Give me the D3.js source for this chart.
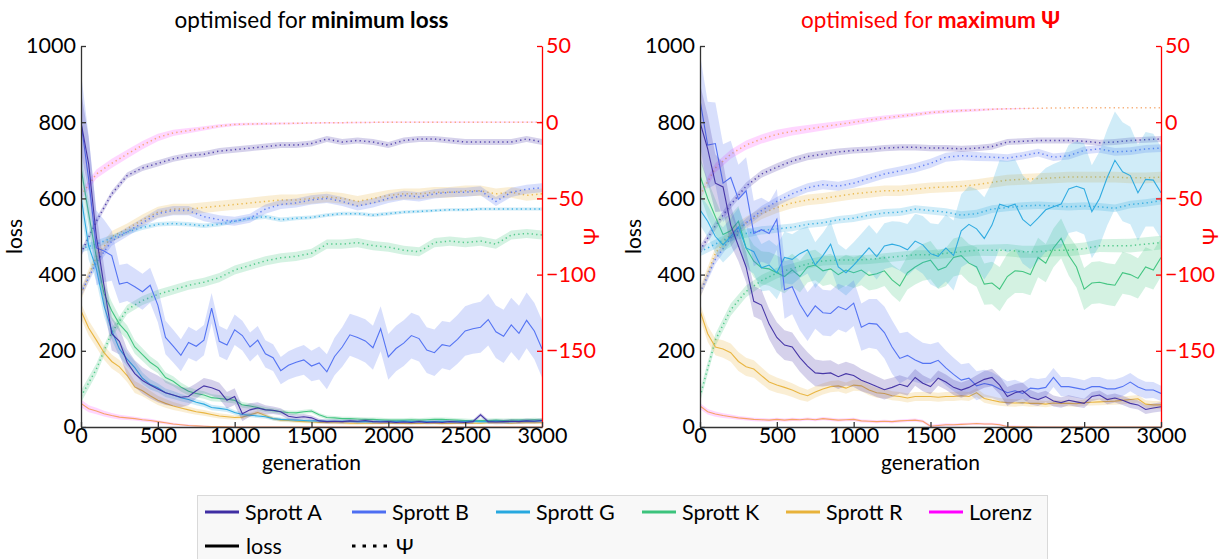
<!DOCTYPE html>
<html><head><meta charset="utf-8">
<script src="https://cdn.jsdelivr.net/npm/d3@7"></script>
<style>
body{margin:0;background:#fff;}
svg{font-family:Lato,'Open Sans',sans-serif;}
</style></head><body>
<svg id="chart" width="1232" height="559"></svg>
<script>
// ---------- data ----------
const SERIES = ["Sprott A","Sprott B","Sprott G","Sprott K","Sprott R","Lorenz"];
const COLORS = ["#3f2ea3","#4d6ef2","#27a8df","#3cc37c","#e8b23a","#ff00ff"];
const BAND_COLORS = ["#3f2ea3","#4d6ef2","#27a8df","#3cc37c","#e8b23a","#ff44ff"];
const LINE_COLORS = ["#3f2ea3","#4d6ef2","#27a8df","#3cc37c","#e8b23a","#f5a060"];

const GEN_LOSS = [0,50,100,150,200,250,300,350,400,450,500,550,600,650,700,750,800,850,900,950,
  1000,1050,1100,1150,1200,1250,1300,1350,1400,1450,1500,1550,1600,1650,1700,1750,1800,1850,1900,1950,
  2000,2050,2100,2150,2200,2250,2300,2350,2400,2450,2500,2550,2600,2650,2700,2750,2800,2850,2900,2950,3000];
const GEN_PSI = [0,100,200,300,400,500,600,700,800,900,1000,1100,1200,1300,1400,1500,1600,1700,1800,1900,
  2000,2100,2200,2300,2400,2500,2600,2700,2800,2900,3000];
const GEN_SD = [0,250,500,750,1000,1250,1500,1750,2000,2250,2500,2750,3000];

const X_TICKS = [0,500,1000,1500,2000,2500,3000];
const LOSS_TICKS = [0,200,400,600,800,1000];
const PSI_TICKS = [-150,-100,-50,0,50];

// panel 1: optimised for minimum loss — loss
const lossMinA = [800,690,500,370,245,225,170,140,122,110, 100,90,84,78,80,95,108,103,95,70, 80,35,45,50,45,44,40,28,25,27, 24,16,14,15,14,16,15,17,14,13, 14,12,13,12,14,12,13,12,14,13, 12,14,32,14,13,14,15,14,16,15, 17];
const lossMinB = [800,650,470,462,450,375,380,368,355,372, 320,235,212,188,222,212,228,312,225,215, 255,240,210,228,192,182,148,162,170,176, 160,168,145,185,210,242,235,226,208,258, 184,206,220,240,232,202,195,216,212,230, 252,258,262,282,250,238,268,246,280,252, 205];
const lossMinG = [605,475,415,318,253,205,178,156,128,112, 103,90,84,77,72,65,60,51,49,46, 38,33,31,29,27,22,20,19,18,17, 16,16,15,15,15,15,14,14,14,15, 14,14,15,14,14,14,14,15,14,14, 14,15,14,14,15,14,14,15,15,15, 16];
const lossMinK = [680,560,445,350,305,270,248,210,190,170, 156,130,120,105,94,88,84,77,75,73, 70,58,55,51,46,43,40,38,37,40, 42,32,25,24,22,22,21,20,20,19, 18,18,18,19,18,19,20,20,19,18, 17,16,17,17,18,17,18,18,18,19, 18];
const lossMinR = [305,260,228,195,172,158,135,105,95,82, 70,62,55,50,45,40,37,33,29,27, 25,26,32,38,30,22,18,17,15,14, 13,12,12,11,11,10,10,10,10,10, 10,10,9,9,9,10,10,9,9,10, 10,10,10,11,11,11,10,11,11,11, 11];
const lossMinLo = [62,48,42,35,30,26,24,22,19,17, 14,11,8,6,4,3,2,1,1,0.5, 0,0,0,0,0,0,0,0,0,0, 0,0,0,0,0,0,0,0,0,0, 0,0,0,0,0,0,0,0,0,0, 0,0,0,0,0,0,0,0,0,0, 0];
// spread (half band width) on GEN_SD
const lossMinSdA = [80,35,35,20,22,10,6,5,5,5,5,6,6];
const lossMinSdB = [130,50,45,40,40,35,40,55,60,60,65,70,75];
const lossMinSdG = [40,20,12,8,6,5,4,4,4,4,4,4,4];
const lossMinSdK = [40,20,15,10,8,6,5,5,5,5,5,5,5];
const lossMinSdR = [20,18,12,8,6,5,4,4,3,3,3,3,3];
const lossMinSdLo = [10,6,4,2,1,1,1,1,1,1,1,1,1];

// panel 1 — Ψ
const psiMinA = [-86,-65,-47,-35,-30,-27,-24,-22,-21,-19,-18,-17,-16,-15,-15,-14,-11,-13,-12,-13,-15,-12,-11,-11,-12,-13,-13,-13,-13,-11,-13];
const psiMinB = [-112,-92,-78,-72,-66,-60,-58,-58,-62,-64,-65,-63,-57,-54,-53,-51,-50,-52,-55,-53,-50,-48,-49,-47,-46,-46,-45,-52,-46,-44,-43];
const psiMinG = [-83,-80,-76,-72,-69,-67,-66.5,-67,-68,-67,-65,-63,-62,-64,-63,-62.5,-61,-60,-60,-61,-60,-59,-58.5,-58,-57.5,-57.5,-57,-57,-57,-57,-57];
const psiMinK = [-180,-162,-138,-123,-117,-113,-110,-107,-105,-102,-97,-94,-91,-89,-88,-86,-80,-80,-79,-81,-82,-84,-85,-79,-78,-79,-78,-80,-74,-73,-74];
const psiMinR = [-113,-88,-75,-70,-64,-59,-57,-57,-56,-55,-54,-53,-52,-51,-51,-50,-49,-50,-52,-50,-48,-47,-47,-46,-46,-45,-45,-47,-46,-48,-47];
const psiMinLo = [-48,-34,-27,-21,-15,-10,-7,-5.5,-4,-2.5,-1.5,-1.2,-1,-0.9,-0.7,-0.5,-0.4,-0.3,-0.2,-0.1,0,0,0,0,0,0,0,0,0,0,0];
const psiMinSdA = [2.5,2,2,2,2,2,2,2,2,2,2,2,2];
const psiMinSdB = [3,3,3,3,3,3,3,3,3,3,3,3,3];
const psiMinSdG = [2.5,2,1.5,1.5,1.5,1.5,1.2,1.2,1.2,1,1,1,1];
const psiMinSdK = [4,3,3,3,3,3,3,3,3,3,3,3,3];
const psiMinSdR = [4,3.5,3.5,3.5,3.5,3.5,3.5,3.5,3.5,3.5,3.5,3.5,3.5];
const psiMinSdLo = [3,3,2.5,1.5,1,0.7,0.5,0.5,0.4,0.4,0.4,0.4,0.4];

// panel 2: optimised for maximum Ψ — loss
const lossMaxA = [800,730,640,630,530,475,420,330,320,270, 235,215,210,182,160,142,140,142,132,140, 135,123,115,106,98,104,112,106,130,115, 106,128,118,104,97,104,115,125,130,110, 80,90,95,78,72,80,68,64,70,66, 62,80,84,72,76,70,62,58,46,50, 53];
const lossMaxB = [858,740,744,640,655,598,620,508,518,508, 545,360,368,322,290,318,300,298,316,308, 325,262,272,270,248,210,180,188,176,167, 167,175,155,138,123,128,108,114,110,100, 90,95,88,102,100,104,130,106,106,102, 98,106,106,100,100,106,118,105,97,97, 88];
const lossMaxG = [570,540,500,478,500,525,470,460,418,425, 405,445,440,455,465,425,450,480,420,405, 425,447,470,447,475,480,475,465,488,478, 455,448,470,450,515,532,520,495,530,585, 578,585,545,528,548,570,578,585,625,632, 625,565,600,655,700,670,660,615,650,648, 615];
const lossMaxK = [660,600,552,505,515,540,470,435,418,415, 405,395,412,395,420,425,410,415,400,412, 405,412,398,402,410,386,370,405,420,432, 438,412,420,445,450,430,420,375,378,362, 395,410,408,400,445,430,470,495,450,420, 362,378,380,375,372,405,400,390,420,412, 445];
const lossMaxR = [305,245,210,205,195,172,158,152,135,118, 110,104,97,88,82,92,100,106,108,102, 110,108,97,90,88,82,80,76,80,80, 80,78,80,80,82,80,90,75,70,66, 64,63,64,62,62,60,63,62,62,61, 64,65,66,67,68,70,72,74,60,58, 58];
const lossMaxLo = [55,40,34,30,27,24,22,20,19,18, 20,18,20,19,21,19,22,20,18,19, 20,16,15,14,15,14,16,17,18,15, 2,4,6,6,7,8,9,8,8,6, 1,1,0.5,0.5,0,0,0,0,0,0, 0,0,0,0,0,0,0,0,0,0, 0];
const lossMaxSdA = [100,40,40,35,30,25,20,20,25,15,12,12,12];
const lossMaxSdB = [120,90,80,60,60,70,50,40,30,25,25,25,20];
const lossMaxSdG = [40,50,70,60,60,60,80,100,120,110,120,130,120];
const lossMaxSdK = [50,40,45,40,40,40,50,50,60,50,55,55,50];
const lossMaxSdR = [20,25,20,15,15,12,12,12,10,8,8,10,10];
const lossMaxSdLo = [8,5,4,4,4,4,4,3,3,2,1,1,1];

// panel 2 — Ψ
const psiMaxA = [-84,-68,-54,-42,-34,-29.5,-25.5,-22.5,-21,-19.5,-18.5,-18,-17,-16.5,-16.5,-17,-17,-17.5,-17,-16,-13,-12.5,-12,-12,-12,-12.5,-13.5,-13,-12,-11.5,-11];
const psiMaxB = [-112,-90,-76,-66,-58,-52,-47,-43,-41,-42,-40,-37,-34,-32,-30,-27,-23,-22,-22.5,-23,-23.5,-22,-20,-23,-22,-18.5,-17.5,-19.5,-19,-17.5,-17];
const psiMaxG = [-85,-80,-75,-73,-71,-70,-69,-67,-66,-64,-63,-61,-59.5,-59,-57,-58,-59,-61,-60,-57,-56,-55,-54.5,-55,-55.5,-55,-55.5,-56.5,-54,-53,-51.5];
const psiMaxK = [-180,-143,-123,-111,-104,-99,-96,-93,-91,-90.5,-90.5,-90,-89,-88,-87,-87,-86,-85,-84,-84,-84,-85,-85,-84,-84,-83,-81,-81,-81,-80,-79];
const psiMaxR = [-112,-86,-73,-66,-60,-56,-53,-51,-50,-48.5,-47,-46,-45,-45,-44,-43,-42.5,-42,-41,-39.5,-38,-37.5,-37,-36.5,-36,-36,-36,-36,-36.5,-36.5,-36];
const psiMaxLo = [-48,-30,-21,-15,-11,-8,-6,-4.5,-3,-1.5,0,1.5,2.8,4,5,6.3,7,7.6,8,8.5,8.8,9,9.2,9.3,9.4,9.4,9.4,9.4,9.4,9.4,9.4];
const psiMaxSdA = [3,2.5,2.5,2.5,2,2,2,2,2,2,2,2,2];
const psiMaxSdB = [3,3,3,3,3,3,3,3,2.5,2.5,2.5,2.5,2.5];
const psiMaxSdG = [3,3,2.5,2.5,2.5,2.5,2.5,2.5,2.5,2.5,2.5,2.5,2.5];
const psiMaxSdK = [4,4,3.5,3,3,3,3,3.5,4,4,4,4.5,4.5];
const psiMaxSdR = [4,4,3.5,3.5,3.5,3.5,3.5,3.5,3.5,3.5,3.5,3.5,3.5];
const psiMaxSdLo = [3,3,3,2.5,2,1.5,1.2,1,0.5,0,0,0,0];

// ---------- layout ----------
const svg = d3.select("#chart");
const W = 461, H = 381, TOP = 46;
const fmt = d3.format("d");
const panels = [
  {x0: 81, id: "c1", color: "#000", t1: "optimised for ", t2: "minimum loss",
   loss: [lossMinA,lossMinB,lossMinG,lossMinK,lossMinR,lossMinLo],
   lossSd: [lossMinSdA,lossMinSdB,lossMinSdG,lossMinSdK,lossMinSdR,lossMinSdLo],
   psi: [psiMinA,psiMinB,psiMinG,psiMinK,psiMinR,psiMinLo],
   psiSd: [psiMinSdA,psiMinSdB,psiMinSdG,psiMinSdK,psiMinSdR,psiMinSdLo]},
  {x0: 700, id: "c2", color: "#ff0000", t1: "optimised for ", t2: "maximum Ψ",
   loss: [lossMaxA,lossMaxB,lossMaxG,lossMaxK,lossMaxR,lossMaxLo],
   lossSd: [lossMaxSdA,lossMaxSdB,lossMaxSdG,lossMaxSdK,lossMaxSdR,lossMaxSdLo],
   psi: [psiMaxA,psiMaxB,psiMaxG,psiMaxK,psiMaxR,psiMaxLo],
   psiSd: [psiMaxSdA,psiMaxSdB,psiMaxSdG,psiMaxSdK,psiMaxSdR,psiMaxSdLo]}
];

const defs = svg.append("defs");
const drawOrder = [5,4,3,2,1,0];

panels.forEach(p => {
  defs.append("clipPath").attr("id", p.id).append("rect")
    .attr("x", 0).attr("y", 0).attr("width", W).attr("height", H);
  const g = svg.append("g").attr("transform", `translate(${p.x0},${TOP})`);
  const x = d3.scaleLinear().domain([0,3000]).range([0,W]);
  const yL = d3.scaleLinear().domain([0,1000]).range([H,0]);
  const yP = d3.scaleLinear().domain([-200,50]).range([H,0]);
  const plot = g.append("g").attr("clip-path", `url(#${p.id})`);

  const mk = (gens, vals, sds) => {
    const sdScale = d3.scaleLinear().domain(GEN_SD).range(sds);
    return gens.map((gg,i) => ({g: gg, v: vals[i], s: sdScale(gg)}));
  };
  drawOrder.forEach(i => {
    const pts = mk(GEN_PSI, p.psi[i], p.psiSd[i]);
    plot.append("path").datum(pts)
      .attr("d", d3.area().x(d=>x(d.g)).y0(d=>yP(d.v-d.s)).y1(d=>yP(d.v+d.s)))
      .attr("fill", BAND_COLORS[i]).attr("fill-opacity", 0.22);
    plot.append("path").datum(pts)
      .attr("d", d3.line().x(d=>x(d.g)).y(d=>yP(d.v)))
      .attr("fill","none").attr("stroke", LINE_COLORS[i]).attr("stroke-width", 1.5)
      .attr("stroke-dasharray","1.3,3.2").attr("stroke-opacity",0.85);
  });
  drawOrder.forEach(i => {
    const pts = mk(GEN_LOSS, p.loss[i], p.lossSd[i]);
    plot.append("path").datum(pts)
      .attr("d", d3.area().x(d=>x(d.g)).y0(d=>yL(d.v-d.s)).y1(d=>yL(d.v+d.s)))
      .attr("fill", BAND_COLORS[i]).attr("fill-opacity", 0.22);
    plot.append("path").datum(pts)
      .attr("d", d3.line().x(d=>x(d.g)).y(d=>yL(d.v)))
      .attr("fill","none").attr("stroke", LINE_COLORS[i]).attr("stroke-width", 1.1)
      .attr("stroke-opacity",0.95);
  });

  const axL = g.append("g").call(d3.axisLeft(yL).tickValues(LOSS_TICKS).tickFormat(fmt)
    .tickSizeInner(-5).tickSizeOuter(0).tickPadding(5));
  const axR = g.append("g").attr("transform",`translate(${W},0)`)
    .call(d3.axisRight(yP).tickValues(PSI_TICKS).tickFormat(fmt).tickSizeInner(-5).tickSizeOuter(0).tickPadding(4));
  const axB = g.append("g").attr("transform",`translate(0,${H})`)
    .call(d3.axisBottom(x).tickValues(X_TICKS).tickFormat(fmt).tickSizeInner(-5).tickSizeOuter(0).tickPadding(1));
  [axL, axB].forEach(a => {
    a.selectAll("path,line").attr("stroke","#333").attr("stroke-width",1.3);
    a.selectAll("text").attr("font-size",21.5).attr("fill","#000").attr("font-family","Lato");
  });
  axR.selectAll("path,line").attr("stroke","#ff0000").attr("stroke-width",1.3);
  axR.selectAll("text").attr("font-size",21.5).attr("fill","#ff0000").attr("font-family","Lato");

  const t = svg.append("text").attr("x", p.x0 + W/2).attr("y", 28).attr("text-anchor","middle")
    .attr("font-size",22.5).attr("fill",p.color);
  t.append("tspan").text(p.t1);
  t.append("tspan").attr("font-weight","bold").text(p.t2);
  svg.append("text").attr("x", p.x0 + W/2).attr("y", 470).attr("text-anchor","middle")
    .attr("font-size",21).text("generation");
  svg.append("text").attr("transform",`translate(${p.x0-59},${TOP+H/2}) rotate(-90)`)
    .attr("text-anchor","middle").attr("font-size",21).text("loss");
  svg.append("text").attr("transform",`translate(${p.x0+W+57},${TOP+H/2}) rotate(-90)`)
    .attr("text-anchor","middle").attr("font-size",21).attr("fill","#ff0000").text("Ψ");
});

// ---------- legend ----------
const lg = svg.append("g");
lg.append("rect").attr("x",197.5).attr("y",495.5).attr("width",850).attr("height",80)
  .attr("fill","#f8f8f8").attr("stroke","#d9d9d9");
const legX = [205, 352, 496, 642, 786, 929];
SERIES.forEach((s,i) => {
  lg.append("line").attr("x1",legX[i]).attr("x2",legX[i]+34).attr("y1",512).attr("y2",512)
    .attr("stroke",COLORS[i]).attr("stroke-width",3);
  lg.append("text").attr("x",legX[i]+40).attr("y",512).attr("dy","0.35em")
    .attr("font-size",21.5).text(s);
});
lg.append("line").attr("x1",205).attr("x2",239).attr("y1",546).attr("y2",546)
  .attr("stroke","#000").attr("stroke-width",3);
lg.append("text").attr("x",246).attr("y",546).attr("dy","0.35em").attr("font-size",21.5).text("loss");
lg.append("line").attr("x1",352).attr("x2",392).attr("y1",546).attr("y2",546)
  .attr("stroke","#000").attr("stroke-width",3).attr("stroke-dasharray","3.5,7");
lg.append("text").attr("x",396).attr("y",546).attr("dy","0.35em").attr("font-size",21.5).text("Ψ");
</script>
</body></html>
